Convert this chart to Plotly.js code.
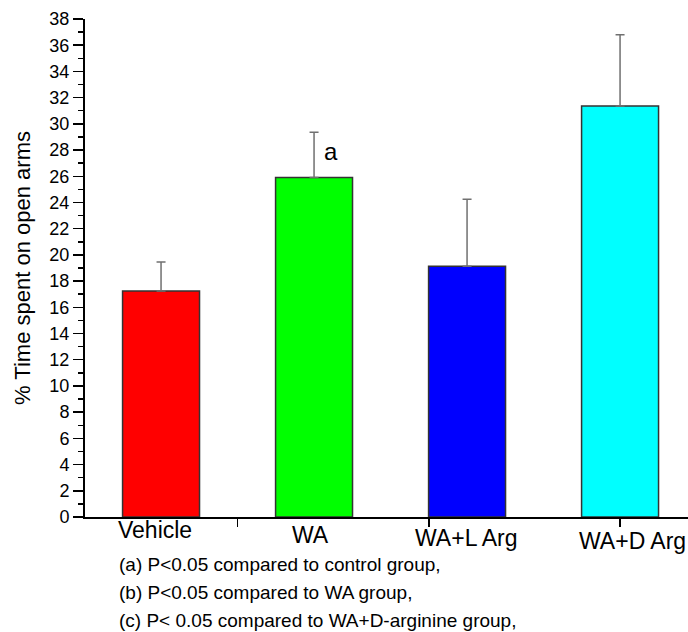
<!DOCTYPE html>
<html>
<head>
<meta charset="utf-8">
<script src="https://cdn.plot.ly/plotly-3.0.1.min.js"></script>
<style>html,body{margin:0;padding:0;background:#fff;}#chart{width:688px;height:632px;}</style>
</head>
<body>
<div id="chart"></div>
<script>
const categories = ["Vehicle", "WA", "WA+L Arg", "WA+D Arg"];
const meanValues = [17.25, 25.9, 19.13, 31.36];
const errorValues = [2.21, 3.45, 5.11, 5.44];
const barColors = ["#FF0000", "#00FF00", "#0000FF", "#00FFFF"];
const xTickPositions = [0.5, 1.75, 3];
const yTickValues = [0,2,4,6,8,10,12,14,16,18,20,22,24,26,28,30,32,34,36,38];
const sigLabels = [{group: 1, text: "a", y: 27.9}];
const footnotes = [
  "(a) P<0.05 compared to control group,",
  "(b) P<0.05 compared to WA group,",
  "(c) P< 0.05 compared to WA+D-arginine group,"
];

const FONT = "Arial, 'Liberation Sans', sans-serif";
const xIdx = categories.map((c, i) => i);

const trace = {
  type: "bar",
  x: xIdx,
  y: meanValues,
  width: 0.503,
  marker: {color: barColors, line: {color: "#333", width: 1.5}},
  error_y: {type: "data", array: errorValues, arrayminus: errorValues.map(() => 0),
            symmetric: false, visible: true, color: "#707070", thickness: 1.5, width: 4.5},
  hoverinfo: "skip"
};

const labelShifts = [-6, -4, -1, 12];
const labelDrops = [-12.5, -17.5, -20.5, -23.5];
const annotations = [];
categories.forEach((c, i) => {
  annotations.push({xref: "x", yref: "paper", x: xIdx[i], y: 0, xshift: labelShifts[i], yshift: labelDrops[i],
    text: c, showarrow: false, xanchor: "center", yanchor: "middle",
    font: {family: FONT, size: 23, color: "#000"}});
});
sigLabels.forEach(s => {
  annotations.push({xref: "x", yref: "y", x: xIdx[s.group], y: s.y, xshift: 17, text: s.text,
    showarrow: false, xanchor: "center", yanchor: "middle", font: {family: FONT, size: 24, color: "#000"}});
});
footnotes.forEach((t, i) => {
  annotations.push({xref: "paper", yref: "paper", x: 0.053, y: 0, yshift: -47.5 - 28 * i,
    text: t, showarrow: false, xanchor: "left", yanchor: "middle",
    font: {family: FONT, size: 19, color: "#000"}});
});

const layout = {
  width: 688, height: 632,
  margin: {l: 85, r: 0, t: 19, b: 114.5, pad: 0},
  paper_bgcolor: "#fff", plot_bgcolor: "#fff",
  showlegend: false,
  xaxis: {
    range: [-0.497, 3.444], showgrid: false, zeroline: false,
    showline: true, linecolor: "#000", linewidth: 1.5,
    tickmode: "array", tickvals: xTickPositions, ticktext: xTickPositions.map(() => ""),
    ticks: "outside", ticklen: 8, tickwidth: 1.5, tickcolor: "#000", showticklabels: false
  },
  yaxis: {
    range: [0, 38], showgrid: false, zeroline: false,
    showline: true, linecolor: "#000", linewidth: 2,
    tickmode: "array", tickvals: yTickValues,
    ticks: "outside", ticklen: 10, tickwidth: 1.5, tickcolor: "#000",
    minor: {dtick: 1, ticks: "outside", ticklen: 5, tickwidth: 1.5, tickcolor: "#000"},
    tickfont: {family: FONT, size: 18, color: "#000"},
    title: {text: "% Time spent on open arms", standoff: 13, font: {family: FONT, size: 22, color: "#000"}}
  },
  annotations: annotations
};

Plotly.newPlot("chart", [trace], layout, {displayModeBar: false, staticPlot: true});
</script>
</body>
</html>
